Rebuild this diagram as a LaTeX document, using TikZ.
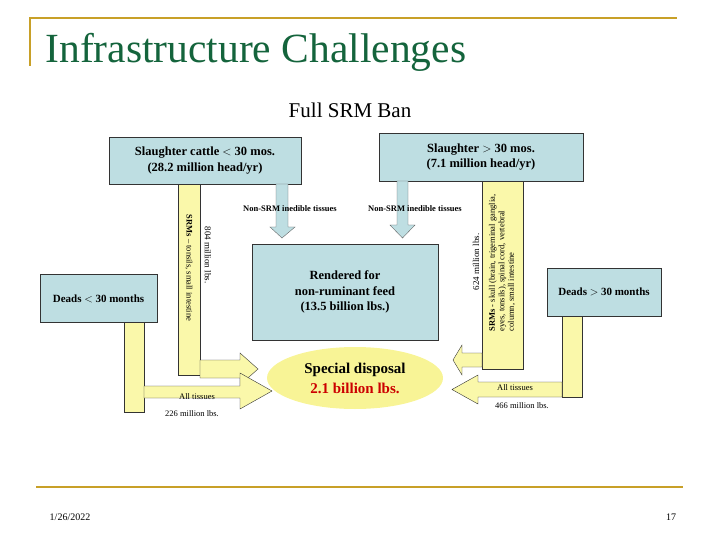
\documentclass[tikz,border=0pt]{standalone}
\usepackage{fontspec}
\setmainfont{Liberation Serif}
\usetikzlibrary{positioning,shapes.geometric}
\definecolor{boxblue}{RGB}{190,222,226}
\definecolor{baryellow}{RGB}{250,248,170}
\definecolor{ovalyellow}{RGB}{248,244,150}
\definecolor{gold}{RGB}{200,160,40}
\definecolor{titlegreen}{RGB}{20,100,60}
\tikzset{
  blue box/.style={draw=black!80, fill=boxblue, align=center, inner sep=0pt},
  yellow bar/.style={draw=black!80, fill=baryellow},
  blue arrow/.style={draw=black!60, fill=boxblue},
  tiny label/.style={font=\fontsize{8.5}{10}\selectfont, inner sep=0pt},
  mid text/.style={font=\bfseries\fontsize{12.5}{15.5}\selectfont, align=center}
}
\begin{document}
\begin{tikzpicture}[x=1pt, y=-1pt]
\useasboundingbox (0,0) rectangle (720,540);
% slide frame
\draw[gold, line width=2pt] (30,66) -- (30,18) -- (677,18);
\draw[gold, line width=2pt] (36,487) -- (683,487);
\node[anchor=west, text=titlegreen, font=\fontsize{41.5}{46}\selectfont] (title) at (42,52) {Infrastructure Challenges};
\node[font=\fontsize{21}{24}\selectfont] (ban) at (350,110) {Full SRM Ban};
% boxes
\node[blue box, minimum width=192pt, minimum height=47pt, mid text] (slow) at (205,160.5) {Slaughter cattle $<$ 30 mos.\\(28.2 million head/yr)};
\node[blue box, minimum width=204pt, minimum height=48pt, mid text] (shigh) at (481,157) {Slaughter $>$ 30 mos.\\(7.1 million head/yr)};
\node[blue box, minimum width=117pt, minimum height=48pt, font=\bfseries\fontsize{11}{13}\selectfont] (dlow) at (98.5,298.5) {Deads $<$ 30 months};
\node[blue box, minimum width=114pt, minimum height=48pt, font=\bfseries\fontsize{11}{13}\selectfont] (dhigh) at (604,292) {Deads $>$ 30 months};
\node[blue box, minimum width=186pt, minimum height=96pt, mid text] (rend) at (345,292) {Rendered for\\non-ruminant feed\\(13.5 billion lbs.)};
% yellow bars and block arrows
\draw[yellow bar] (178,184) rectangle (200,375);
\draw[yellow bar] (200,360) -- (240,360) -- (240,353) -- (258,369) -- (240,385) -- (240,378) -- (200,378) -- cycle;
\draw[yellow bar] (124,322) rectangle (144,412);
\draw[yellow bar] (144,386) -- (240,386) -- (240,373) -- (272,391) -- (240,409) -- (240,398) -- (144,398) -- cycle;
\draw[yellow bar] (482,181) rectangle (523,369);
\draw[yellow bar] (482,353) -- (462,353) -- (462,345) -- (453,360) -- (462,375) -- (462,367) -- (482,367) -- cycle;
\draw[yellow bar] (562,316) rectangle (582,397);
\draw[yellow bar] (562,382) -- (478,382) -- (478,375) -- (452,389.5) -- (478,404) -- (478,397) -- (562,397) -- cycle;
\draw[blue arrow] (276,184) -- (276,227) -- (270,227) -- (282,238) -- (295,227) -- (288,227) -- (288,184) -- cycle;
\draw[blue arrow] (397,181) -- (397,225) -- (390,225) -- (402.5,238) -- (415,225) -- (408,225) -- (408,181) -- cycle;
% special disposal
\node[ellipse, fill=ovalyellow, minimum width=176pt, minimum height=62pt, align=center, font=\bfseries\fontsize{15}{20}\selectfont] (disp) at (355,378) {Special disposal\\\textcolor{red!80!black}{2.1 billion lbs.}};
% labels
\node[tiny label, font=\bfseries\fontsize{8.5}{10}\selectfont] (nsrmA) at (290,209) {Non-SRM inedible tissues};
\node[tiny label, font=\bfseries\fontsize{8.5}{10}\selectfont] (nsrmB) at (415,209) {Non-SRM inedible tissues};
\node[tiny label, rotate=-90] (srmA) at (189,268) {\textbf{SRMs} -- tonsils, small intestine};
\node[tiny label, rotate=-90, font=\fontsize{9}{10}\selectfont] (lbsA) at (208,255) {804 million lbs.};
\node[tiny label, rotate=90, align=left, font=\fontsize{8.5}{9.5}\selectfont] (srmB) at (502,263) {\textbf{SRMs} - skull (brain, trigeminal ganglia,\\eyes, tonsils), spinal cord, vertebral\\column, small intestine};
\node[tiny label, rotate=90, font=\fontsize{9}{10}\selectfont] (lbsB) at (476,262) {624 million lbs.};
\node[tiny label] (allA) at (197,397) {All tissues};
\node[tiny label] (lbsC) at (192,414) {226 million lbs.};
\node[tiny label] (allB) at (515,388) {All tissues};
\node[tiny label] (lbsD) at (522,406) {466 million lbs.};
% footer
\node[font=\fontsize{10}{12}\selectfont] (date) at (70,517) {1/26/2022};
\node[font=\fontsize{10}{12}\selectfont] (page) at (671,517) {17};
\end{tikzpicture}
\end{document}
